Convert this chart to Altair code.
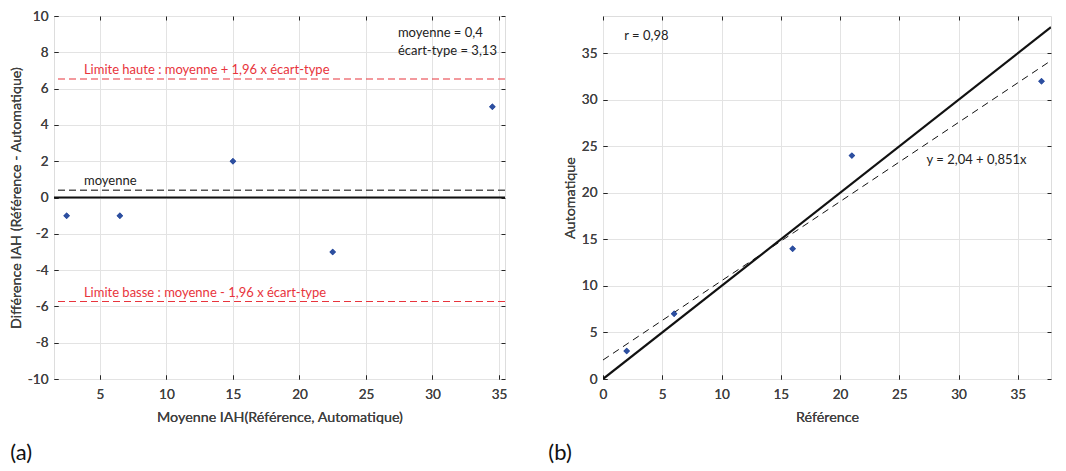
import altair as alt
import pandas as pd

# ---- data ----
ref_vals = [2, 6, 16, 21, 37]          # Référence
auto_vals = [3, 7, 14, 24, 32]         # Automatique
mean_vals = [2.5, 6.5, 15, 22.5, 34.5] # Moyenne IAH
diff_vals = [-1, -1, 2, -3, 5]         # Différence IAH
mean_diff = 0.4
sd_diff = 3.13
upper_lim = 6.53
lower_lim = -5.73
fit_a = 2.04
fit_b = 0.851
r_val = "0,98"

x1_dom = [1.55, 35.45]
y1_dom = [-10, 10]
x2_dom = [0, 37.8]
y2_dom = [0, 39]

FONT = "Lato"
GRID = "#e3e3e3"
LAB = "#404040"
RED = "#e8343c"
BLUE = "#2d4fa0"
W1, H1 = 451, 363
W2, H2 = 448, 363

def main_axis(title, values, orient, label_pad, title_pad):
    return alt.Axis(title=title, values=values, orient=orient, grid=True, gridColor=GRID,
                    domain=False, ticks=True, tickSize=4, offset=-4, tickColor="#262626",
                    labelPadding=label_pad, labelColor=LAB, labelFont=FONT, labelFontSize=13.5,
                    labelExpr="'' + datum.value",
                    titleColor=LAB, titleFont=FONT, titleFontSize=14.3, titleFontWeight="normal",
                    titlePadding=title_pad, labelFlush=False)

def tick_axis(values, orient):
    return alt.Axis(title=None, values=values, orient=orient, grid=False, domain=False,
                    labels=False, ticks=True, tickSize=4, offset=-4, tickColor="#262626")

# ---------------- panel (a): Bland-Altman ----------------
xa_ticks = [5, 10, 15, 20, 25, 30, 35]
ya_ticks = list(range(-10, 11, 2))
xs_a = alt.Scale(domain=x1_dom, nice=False, zero=False)
ys_a = alt.Scale(domain=y1_dom, nice=False, zero=False)

pts_a = pd.DataFrame({"m": mean_vals, "d": diff_vals})
base_pts_a = alt.Chart(pts_a).mark_point(shape="diamond", filled=True, size=42, color=BLUE, opacity=1)
pts_layer_a = base_pts_a.encode(
    x=alt.X("m:Q", scale=xs_a, axis=main_axis("Moyenne IAH(Référence, Automatique)", xa_ticks, "bottom", 8, 10)),
    y=alt.Y("d:Q", scale=ys_a, axis=main_axis("Différence IAH (Référence - Automatique)", ya_ticks, "left", 6, 4)),
)
ticks_layer_a = base_pts_a.mark_point(opacity=0).encode(
    x=alt.X("m:Q", scale=xs_a, axis=tick_axis(xa_ticks, "top")),
    y=alt.Y("d:Q", scale=ys_a, axis=tick_axis(ya_ticks, "right")),
)

zero_a = alt.Chart(pd.DataFrame({"y": [0]})).mark_rule(color="#111111", strokeWidth=2).encode(
    y=alt.Y("y:Q", scale=ys_a, axis=None))
mean_a = alt.Chart(pd.DataFrame({"y": [mean_diff]})).mark_rule(color="#555555", strokeWidth=1.3, strokeDash=[7, 4]).encode(
    y=alt.Y("y:Q", scale=ys_a, axis=None))
lim_a = alt.Chart(pd.DataFrame({"y": [upper_lim, lower_lim]})).mark_rule(color=RED, strokeWidth=1.2, strokeDash=[7, 4]).encode(
    y=alt.Y("y:Q", scale=ys_a, axis=None))

lab_red = pd.DataFrame({
    "x": [3.8, 3.8],
    "y": [6.62, -5.62],
    "t": ["Limite haute : moyenne + 1,96 x écart-type", "Limite basse : moyenne - 1,96 x écart-type"],
})
txt_red = alt.Chart(lab_red).mark_text(align="left", baseline="bottom", font=FONT, fontSize=13, color=RED).encode(
    x=alt.X("x:Q", scale=xs_a, axis=None), y=alt.Y("y:Q", scale=ys_a, axis=None), text="t:N")
lab_mean = pd.DataFrame({"x": [3.8], "y": [0.5], "t": ["moyenne"]})
txt_mean = alt.Chart(lab_mean).mark_text(align="left", baseline="bottom", font=FONT, fontSize=13, color="#222222").encode(
    x=alt.X("x:Q", scale=xs_a, axis=None), y=alt.Y("y:Q", scale=ys_a, axis=None), text="t:N")
lab_stats = pd.DataFrame({"x": [27.4, 27.4], "y": [9.05, 8.05], "t": ["moyenne = 0,4", "écart-type = 3,13"]})
txt_stats = alt.Chart(lab_stats).mark_text(align="left", baseline="middle", font=FONT, fontSize=13, color="#222222").encode(
    x=alt.X("x:Q", scale=xs_a, axis=None), y=alt.Y("y:Q", scale=ys_a, axis=None), text="t:N")

panel_a = alt.layer(
    pts_layer_a, ticks_layer_a, zero_a, mean_a, lim_a, txt_red, txt_mean, txt_stats, pts_layer_a
).resolve_axis(x="independent", y="independent").properties(
    width=W1, height=H1,
    title=alt.TitleParams("(a)", orient="bottom", anchor="start", fontSize=22, fontWeight="normal",
                          font=FONT, color="#111111", offset=18, dx=1),
)

# ---------------- panel (b): correlation ----------------
xb_ticks = [0, 5, 10, 15, 20, 25, 30, 35]
yb_ticks = [0, 5, 10, 15, 20, 25, 30, 35]
xs_b = alt.Scale(domain=x2_dom, nice=False, zero=False)
ys_b = alt.Scale(domain=y2_dom, nice=False, zero=False)

pts_b = pd.DataFrame({"r": ref_vals, "a": auto_vals})
base_pts_b = alt.Chart(pts_b).mark_point(shape="diamond", filled=True, size=42, color=BLUE, opacity=1)
pts_layer_b = base_pts_b.encode(
    x=alt.X("r:Q", scale=xs_b, axis=main_axis("Référence", xb_ticks, "bottom", 8, 10)),
    y=alt.Y("a:Q", scale=ys_b, axis=main_axis("Automatique", yb_ticks, "left", 6, 4)),
)
ticks_layer_b = base_pts_b.mark_point(opacity=0).encode(
    x=alt.X("r:Q", scale=xs_b, axis=tick_axis(xb_ticks, "top")),
    y=alt.Y("a:Q", scale=ys_b, axis=tick_axis(yb_ticks, "right")),
)

line_x = [x2_dom[0], x2_dom[1]]
ident = pd.DataFrame({"x": line_x, "y": line_x})
fit = pd.DataFrame({"x": line_x, "y": [fit_a + fit_b * v for v in line_x]})
ident_l = alt.Chart(ident).mark_line(color="#111111", strokeWidth=2.2, clip=True).encode(
    x=alt.X("x:Q", scale=xs_b, axis=None), y=alt.Y("y:Q", scale=ys_b, axis=None))
fit_l = alt.Chart(fit).mark_line(color="#111111", strokeWidth=1, strokeDash=[7, 5], clip=True).encode(
    x=alt.X("x:Q", scale=xs_b, axis=None), y=alt.Y("y:Q", scale=ys_b, axis=None))

lab_b = pd.DataFrame({"x": [1.8, 27.3], "y": [36.8, 23.5], "t": ["r = " + r_val, "y = 2,04 + 0,851x"]})
txt_b = alt.Chart(lab_b).mark_text(align="left", baseline="middle", font=FONT, fontSize=13, color="#222222").encode(
    x=alt.X("x:Q", scale=xs_b, axis=None), y=alt.Y("y:Q", scale=ys_b, axis=None), text="t:N")

panel_b = alt.layer(
    pts_layer_b, ticks_layer_b, fit_l, ident_l, txt_b, pts_layer_b
).resolve_axis(x="independent", y="independent").properties(
    width=W2, height=H2,
    title=alt.TitleParams("(b)", orient="bottom", anchor="start", fontSize=22, fontWeight="normal",
                          font=FONT, color="#111111", offset=18, dx=-15),
)

chart = alt.hconcat(panel_a, panel_b, spacing=39).properties(
    padding={"left": 0, "top": 0, "right": 0, "bottom": 0}
).configure_view(stroke="#333333", strokeWidth=1).configure(font=FONT)

chart.save("out.html", embed_options={"renderer": "svg", "actions": False})
